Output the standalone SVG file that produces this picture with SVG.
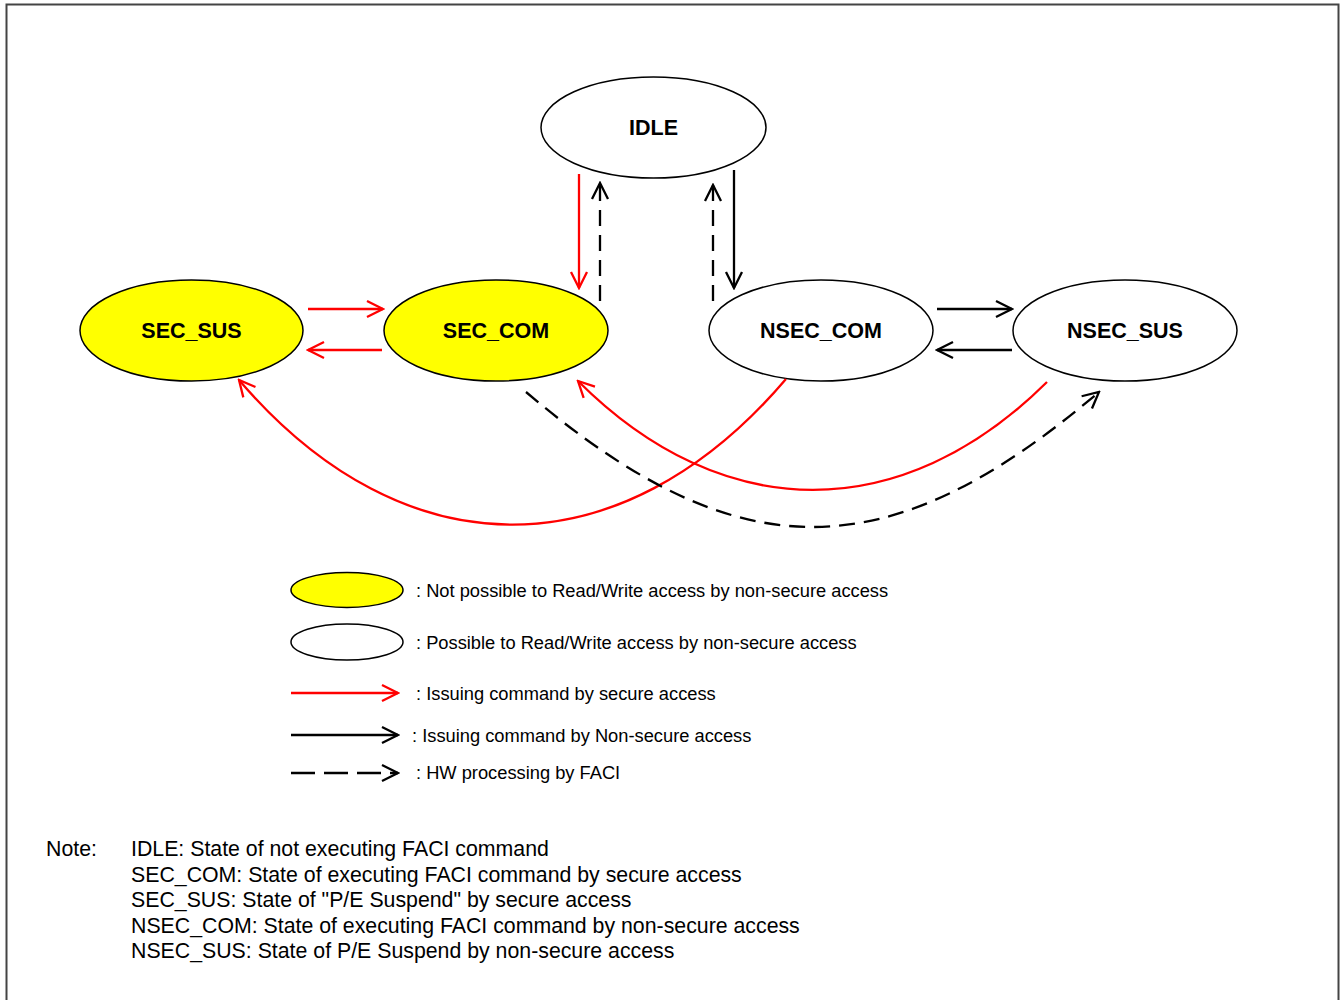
<svg xmlns="http://www.w3.org/2000/svg" width="1341" height="1000" viewBox="0 0 1341 1000">
<style>
.node{stroke:#000;stroke-width:1.5}
.sec{fill:#ffff00}
.nsec{fill:#fff}
.lbl{font-family:"Liberation Sans",Arial,sans-serif;font-weight:bold;font-size:21.5px;text-anchor:middle}
.txt{font-family:"Liberation Sans",Arial,sans-serif;font-size:18.3px}
.note{font-family:"Liberation Sans",Arial,sans-serif;font-size:21.3px}
.r{fill:none;stroke:#ff0000;stroke-width:2.3;marker-end:url(#ar)}
.b{fill:none;stroke:#000;stroke-width:2.3;marker-end:url(#ab)}
.d{fill:none;stroke:#000;stroke-width:2.3;stroke-dasharray:16 9;marker-end:url(#ab)}
</style>
<defs>
<marker id="ar" viewBox="-18 -10 20 20" refX="0" refY="0" markerWidth="20" markerHeight="20" orient="auto" markerUnits="userSpaceOnUse"><path d="M-16,-8 L0,0 L-16,8" fill="none" stroke="#ff0000" stroke-width="2.3"/></marker>
<marker id="ab" viewBox="-18 -10 20 20" refX="0" refY="0" markerWidth="20" markerHeight="20" orient="auto" markerUnits="userSpaceOnUse"><path d="M-16,-8 L0,0 L-16,8" fill="none" stroke="#000" stroke-width="2.3"/></marker>
</defs>
<rect x="0" y="0" width="1341" height="1000" fill="#fff"/>
<rect x="6.5" y="4.5" width="1332" height="1010" fill="none" stroke="#444" stroke-width="2"/>
<g id="IDLE"><ellipse class="node nsec" cx="653.5" cy="127.5" rx="112.5" ry="50.5"/><text class="lbl" x="653.5" y="135">IDLE</text></g>
<g id="SEC_SUS"><ellipse class="node sec" cx="191.5" cy="330.5" rx="111.5" ry="50.5"/><text class="lbl" x="191.5" y="338">SEC_SUS</text></g>
<g id="SEC_COM"><ellipse class="node sec" cx="496" cy="330.5" rx="112" ry="50.5"/><text class="lbl" x="496" y="338">SEC_COM</text></g>
<g id="NSEC_COM"><ellipse class="node nsec" cx="821" cy="330.5" rx="112" ry="50.5"/><text class="lbl" x="821" y="338">NSEC_COM</text></g>
<g id="NSEC_SUS"><ellipse class="node nsec" cx="1125" cy="330.5" rx="112" ry="50.5"/><text class="lbl" x="1125" y="338">NSEC_SUS</text></g>
<g id="connectors">
<path class="r" d="M579,174 V288"/>
<path class="d" d="M600,301 V183"/>
<path class="d" d="M713,301 V185"/>
<path class="b" d="M734,170 V288"/>
<path class="r" d="M308,309 H383"/>
<path class="r" d="M382,350 H308"/>
<path class="b" d="M937,309 H1012"/>
<path class="b" d="M1012,350 H937"/>
<path class="r" d="M786,379 C621,573 404,573 239,380"/>
<path class="r" d="M1047,382 C902,526 723,526 578,381"/>
<path class="d" d="M526,392 C738,572 887,572 1099,392"/>
</g>
<g id="legend">
<ellipse class="node sec" cx="347" cy="590" rx="56" ry="17.5"/>
<text class="txt" x="416" y="596.5">: Not possible to Read/Write access by non-secure access</text>
<ellipse class="node nsec" cx="347" cy="642" rx="56" ry="18"/>
<text class="txt" x="416" y="648.5">: Possible to Read/Write access by non-secure access</text>
<path class="r" d="M291,693 H398"/>
<text class="txt" x="416" y="699.5">: Issuing command by secure access</text>
<path class="b" d="M291,735 H398"/>
<text class="txt" x="412" y="741.5">: Issuing command by Non-secure access</text>
<path class="d" d="M291,773 H398" style="stroke-dasharray:24 9"/>
<text class="txt" x="416" y="778.5">: HW processing by FACI</text>
</g>
<g id="note">
<text class="note" x="46" y="856">Note:</text>
<text class="note" x="131" y="856">IDLE: State of not executing FACI command</text>
<text class="note" x="131" y="882">SEC_COM: State of executing FACI command by secure access</text>
<text class="note" x="131" y="907">SEC_SUS: State of "P/E Suspend" by secure access</text>
<text class="note" x="131" y="933">NSEC_COM: State of executing FACI command by non-secure access</text>
<text class="note" x="131" y="958">NSEC_SUS: State of P/E Suspend by non-secure access</text>
</g>
</svg>
